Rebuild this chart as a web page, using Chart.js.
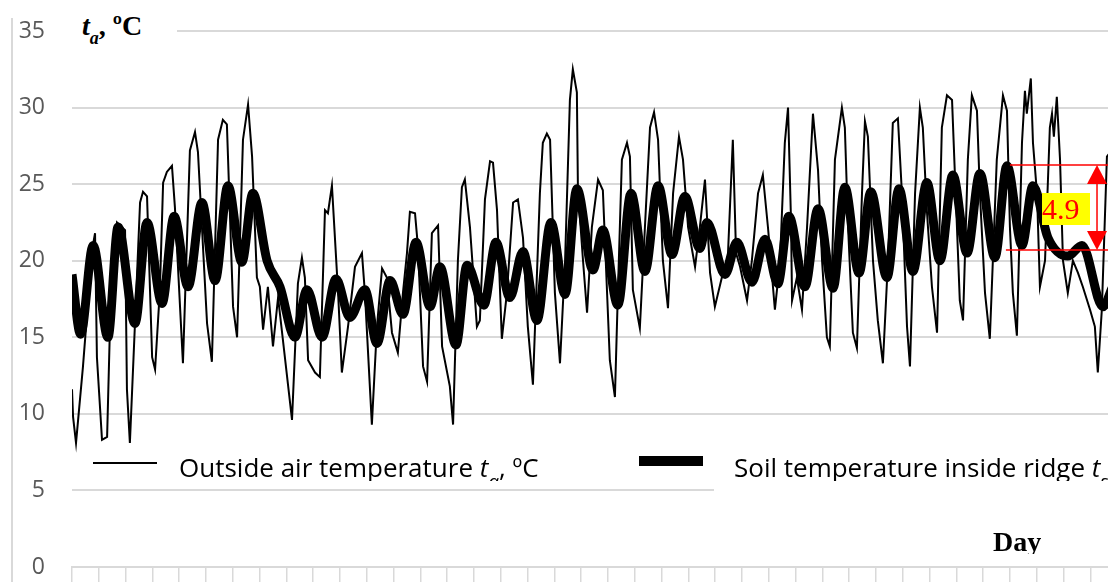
<!DOCTYPE html>
<html>
<head>
<meta charset="utf-8">
<script src="https://cdn.jsdelivr.net/npm/chart.js@4.4.1/dist/chart.umd.min.js"></script>
<style>
  body { margin: 0; overflow: hidden; background: #fff; }
  #wrap { position: relative; width: 1108px; height: 582px; overflow: hidden; }
  #c { position: absolute; left: 0; top: 0; }
  .abs { position: absolute; }
  .serif { font-family: "Liberation Serif", "Times New Roman", serif; font-weight: bold; }
  .lg { font-family: "Open Sans", sans-serif; font-size: 26px; line-height: 30px; color: #000; white-space: nowrap; }
  .sub { font-size: 19px; position: relative; top: 11px; }
</style>
</head>
<body>
<div id="wrap">
  <canvas id="c" width="1108" height="582"></canvas>
  <div class="abs" style="left:11px;top:18px;width:2px;height:564px;background:#d9d9d9"></div>
  <div class="abs serif" style="left:72px;top:10px;width:105px;height:42px;background:#fff;font-size:28px;">
    <span style="position:absolute;left:10px;top:0"><i>t</i><i style="font-size:18px;position:relative;top:9px">a</i>, ºC</span>
  </div>
  <div class="abs" style="left:714px;top:440px;width:400px;height:54px;background:#fff"></div>
  <div class="abs" style="left:0;top:440px;width:1108px;height:41px;overflow:hidden">
    <div class="abs" style="left:93px;top:22px;width:64px;height:2px;background:#000"></div>
    <div class="abs lg" style="left:179px;top:12px">Outside air temperature <i>t</i><i class="sub">a</i>, ºC</div>
    <div class="abs" style="left:639px;top:16px;width:64px;height:10px;background:#000"></div>
    <div class="abs lg" style="left:734px;top:12px">Soil temperature inside ridge <i>t</i><i class="sub">s</i>, ºC</div>
  </div>
  <div class="abs serif" style="left:993px;top:526px;height:28px;overflow:hidden;font-size:28px;">Day</div>
  <div class="abs" style="left:1042px;top:193px;width:48px;height:32px;background:#ffff00;color:#ff0000;font-family:'Liberation Serif',serif;font-size:30px;line-height:32px;text-align:left;">4.9</div>
</div>
<script>
// soil temperature inside ridge (day, ºC)
const soilDay = [0.00,0.32,0.79,1.34,1.72,2.35,2.80,3.36,3.81,4.33,4.85,5.34,5.82,6.34,6.75,7.28,7.76,8.32,8.77,9.33,
  9.85,10.37,10.93,11.38,11.87,12.35,12.84,13.36,13.73,14.33,14.74,15.37,15.82,16.34,16.83,17.35,17.87,18.40,18.84,19.44,
  19.81,20.37,20.86,21.38,21.87,22.39,22.87,23.43,23.69,24.37,24.81,25.37,25.86,26.34,26.75,27.35,27.84,28.40,28.84,29.37,
  29.81,30.41,30.86,31.38,31.90,32.39,32.87,33.40,33.88,34.44,34.89,35.45,35.86,36.42,37.16,37.69,38.47,38.81];
const soilTemp = [19.1,15.2,21.0,15.0,22.2,15.9,22.5,17.2,22.9,18.3,23.8,18.7,24.9,19.9,24.4,20.0,18.3,15.0,18.1,15.0,
  18.8,16.3,18.1,14.6,18.7,16.5,21.2,17.0,19.6,14.5,19.7,17.1,21.2,17.6,20.6,16.1,22.5,17.8,24.7,19.4,
  22.0,17.1,24.4,19.3,24.9,20.4,24.2,20.8,22.5,19.1,21.2,18.6,21.4,18.5,22.9,18.3,23.4,18.2,24.8,19.2,
  24.5,18.9,24.7,19.3,25.1,20.0,25.6,20.5,25.7,20.2,26.2,21.0,24.9,21.5,20.3,21.0,17.0,18.2];

// outside air temperature (day, ºC)
const airDay = [0.00,0.04,0.15,0.41,0.75,0.86,0.93,1.12,1.31,1.42,1.68,1.98,2.05,2.16,2.35,2.54,2.65,2.80,2.99,3.10,
  3.28,3.40,3.54,3.73,3.84,4.14,4.40,4.59,4.70,5.04,5.22,5.45,5.63,5.78,6.01,6.16,6.38,6.57,6.72,6.90,
  7.01,7.13,7.31,7.50,7.69,8.21,8.43,8.58,8.69,8.81,9.07,9.25,9.44,9.55,9.70,9.93,10.07,10.30,10.56,10.82,
  10.93,11.19,11.38,11.57,11.75,11.94,12.16,12.35,12.50,12.61,12.80,12.91,13.10,13.25,13.43,13.66,13.81,14.10,14.22,14.40,
  14.55,14.66,14.85,15.11,15.22,15.41,15.60,15.71,15.86,16.04,16.23,16.46,16.64,16.83,17.01,17.20,17.46,17.57,17.72,17.84,
  18.02,18.21,18.40,18.58,18.69,18.84,18.88,19.07,19.22,19.40,19.63,19.81,20.07,20.26,20.37,20.52,20.71,20.82,20.93,21.19,
  21.38,21.57,21.72,21.87,22.05,22.24,22.43,22.65,22.80,22.99,23.25,23.43,23.62,23.81,23.99,24.29,24.48,24.66,24.78,24.93,
  25.19,25.37,25.60,25.78,25.97,26.23,26.42,26.60,26.72,26.83,26.87,27.05,27.24,27.43,27.65,27.84,27.99,28.17,28.28,28.47,
  28.73,28.84,28.96,29.14,29.29,29.48,29.59,29.70,29.89,30.07,30.26,30.45,30.63,30.82,30.97,31.16,31.27,31.46,31.64,31.75,
  31.90,32.09,32.28,32.46,32.65,32.84,32.95,33.13,33.25,33.43,33.58,33.77,33.88,34.07,34.25,34.51,34.74,34.89,35.00,35.11,
  35.26,35.45,35.56,35.63,35.78,35.86,36.01,36.12,36.31,36.49,36.57,36.64,36.75,36.87,36.98,37.16,37.35,37.54,37.72,37.99,
  38.17,38.28,38.43,38.62,38.92];
const airTemp = [11.6,9.8,8.1,13.1,20.7,21.8,13.7,8.3,8.5,15.9,22.5,22.0,11.6,8.1,15.9,23.8,24.5,24.2,13.7,12.9,
  18.1,25.1,25.8,26.2,23.5,13.3,27.2,28.4,27.1,15.9,13.4,27.9,29.2,28.9,17.0,15.0,27.9,30.2,26.8,18.9,
  18.3,15.5,18.3,14.4,17.6,9.6,18.5,20.2,18.9,13.5,12.7,12.4,23.3,23.1,24.9,17.9,12.7,15.7,19.6,20.5,
  17.9,9.3,15.7,19.5,18.9,15.3,14.0,17.9,20.5,23.2,23.1,20.9,13.1,12.1,21.8,22.3,14.4,11.8,9.3,20.0,
  24.8,25.3,22.2,15.7,16.1,24.0,26.5,26.4,23.3,14.9,17.9,23.8,24.0,21.5,15.7,11.9,24.4,27.7,28.3,27.9,
  17.9,13.3,20.0,30.5,32.5,31.0,24.6,20.0,16.6,22.2,25.3,24.6,13.5,11.1,17.9,26.6,27.7,26.8,18.1,15.6,
  22.2,28.7,29.7,27.9,20.0,16.9,24.4,28.1,26.6,22.2,19.6,22.2,25.3,19.2,17.0,19.2,20.5,27.9,20.5,19.6,
  17.4,20.0,24.4,25.6,22.2,16.8,20.0,27.7,30.0,22.7,17.4,18.9,16.8,22.2,29.6,25.9,20.0,15.0,14.4,26.6,
  30.0,28.7,22.2,15.3,14.3,24.4,29.1,28.1,20.0,16.1,13.3,20.0,29.0,29.3,24.4,15.7,13.1,24.4,30.0,28.7,
  23.3,18.3,15.3,28.7,30.8,30.5,25.5,17.4,16.1,26.6,30.8,29.8,24.4,17.9,14.9,26.6,30.8,29.8,22.2,17.9,
  15.1,27.7,31.1,29.6,31.9,27.7,24.4,18.3,20.0,28.7,29.6,28.1,30.7,26.6,20.0,17.9,20.0,19.2,18.3,16.8,
  15.7,12.7,16.8,26.8,27.5];

const yTicks = [0, 5, 10, 15, 20, 25, 30, 35];
// measured amplitude marker: top / bottom of the soil swing, ºC
const ampDayStart = [35.0, 34.85];
const ampLevels = [26.25, 20.7];
const ampArrowDay = 38.25;

const xy = (xs, ys) => xs.map((d, i) => ({ x: d, y: ys[i] }));

const ampPlugin = {
  id: 'amp',
  afterDatasetsDraw(chart) {
    const { ctx, scales: { x, y }, chartArea } = chart;
    ctx.save();
    ctx.strokeStyle = '#ff0000';
    ctx.fillStyle = '#ff0000';
    ctx.lineWidth = 1.5;
    for (let i = 0; i < 2; i++) {
      const py = y.getPixelForValue(ampLevels[i]);
      ctx.beginPath();
      ctx.moveTo(x.getPixelForValue(ampDayStart[i]), py);
      ctx.lineTo(chartArea.right, py);
      ctx.stroke();
    }
    const ax = x.getPixelForValue(ampArrowDay);
    const top = y.getPixelForValue(ampLevels[0]);
    const bot = y.getPixelForValue(ampLevels[1]);
    ctx.beginPath();
    ctx.moveTo(ax, top + 18);
    ctx.lineTo(ax, bot - 18);
    ctx.stroke();
    ctx.beginPath();
    ctx.moveTo(ax, top); ctx.lineTo(ax - 10, top + 19); ctx.lineTo(ax + 10, top + 19); ctx.closePath();
    ctx.fill();
    ctx.beginPath();
    ctx.moveTo(ax, bot); ctx.lineTo(ax - 10, bot - 19); ctx.lineTo(ax + 10, bot - 19); ctx.closePath();
    ctx.fill();
    ctx.restore();
  }
};

new Chart(document.getElementById('c'), {
  type: 'line',
  data: {
    datasets: [
      {
        label: 'Outside air temperature',
        data: xy(airDay, airTemp),
        borderColor: '#000',
        borderWidth: 2,
        pointRadius: 0,
        tension: 0,
        order: 1
      },
      {
        label: 'Soil temperature inside ridge',
        data: xy(soilDay, soilTemp),
        borderColor: '#000',
        borderWidth: 9,
        pointRadius: 0,
        cubicInterpolationMode: 'monotone',
        order: 2
      }
    ]
  },
  options: {
    responsive: false,
    animation: false,
    devicePixelRatio: 1,
    layout: { padding: { top: 31, right: 0, bottom: 0, left: 0 } },
    plugins: { legend: { display: false }, tooltip: { enabled: false } },
    scales: {
      x: {
        type: 'linear',
        min: 0,
        max: 38.66,
        afterFit: s => { s.height = 15; s.paddingLeft = 0; s.paddingRight = 0; },
        ticks: { display: false, stepSize: 1, includeBounds: false },
        grid: { drawOnChartArea: false, drawTicks: true, tickLength: 15, color: '#d9d9d9', lineWidth: 1.5 },
        border: { display: true, color: '#d9d9d9', width: 2 }
      },
      y: {
        min: 0,
        max: 35,
        afterFit: s => { s.width = 72; s.paddingTop = 0; s.paddingBottom = 0; },
        afterBuildTicks: s => { s.ticks = yTicks.map(v => ({ value: v })); },
        ticks: { color: '#595959', padding: 27, font: { family: 'Open Sans', size: 23 } },
        grid: { color: '#d9d9d9', lineWidth: 2, drawTicks: false },
        border: { display: false }
      }
    }
  },
  plugins: [ampPlugin]
});
</script>
</body>
</html>
